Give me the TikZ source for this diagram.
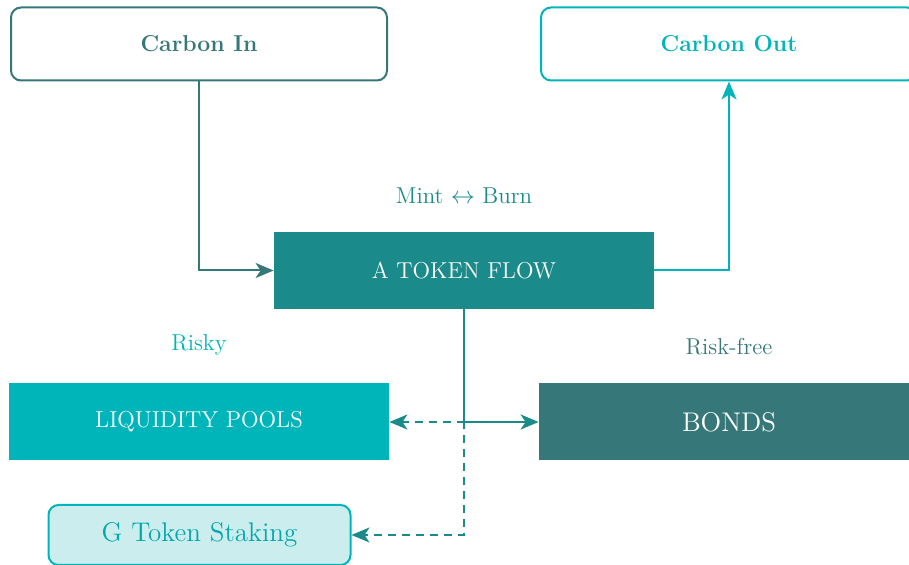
\documentclass[tikz,border=0pt]{standalone}
\usetikzlibrary{arrows.meta}
\definecolor{dteal}{HTML}{367779}
\definecolor{mteal}{HTML}{1B8A8A}
\definecolor{cyanA}{HTML}{00B5BA}
\definecolor{lcyan}{HTML}{CCEDED}
\begin{document}
\begin{tikzpicture}[x=0.5pt,y=-0.5pt,
  font=\fontsize{11.5}{13.5}\selectfont,
  topbox/.style={draw, rounded corners=5pt, line width=1pt, fill=white,
     minimum width=188pt, minimum height=36.5pt, inner sep=0pt,
     font=\fontsize{11.5}{13.5}\selectfont\bfseries},
  flatbox/.style={minimum width=190pt, minimum height=38.5pt, inner sep=0pt, text=white},
  lbl/.style={inner sep=0pt},
  conn/.style={line width=1pt, -{Stealth[length=9pt,width=7.5pt,inset=2.5pt]}},
  dconn/.style={conn, dash pattern=on 4pt off 3pt}]
\useasboundingbox (0,0) rectangle (909,565);
\node[topbox, draw=dteal, text=dteal] (cin) at (199,44) {Carbon In};
\node[topbox, draw=cyanA, text=cyanA] (cout) at (729,44) {Carbon Out};
\node[flatbox, fill=mteal] (tf) at (464,270.5) {A TOKEN FLOW};
\node[lbl, text=mteal] (mb) at (464,196) {Mint $\leftrightarrow$ Burn};
\node[flatbox, fill=cyanA] (lp) at (199,422) {LIQUIDITY POOLS};
\node[flatbox, fill=dteal, font=\fontsize{13.5}{15.5}\selectfont] (bonds) at (729,422) {BONDS};
\node[lbl, text=cyanA] (risky) at (199,345) {Risky};
\node[lbl, text=dteal] (rfree) at (729,347) {Risk-free};
\node[draw=cyanA, fill=lcyan, line width=1pt, rounded corners=5pt, text=cyanA!92!black,
   minimum width=151pt, minimum height=30pt, inner sep=0pt,
   font=\fontsize{13.5}{15.5}\selectfont] (gts) at (199.5,535) {G Token Staking};
\draw[conn, dteal] (cin.south) |- (tf.west);
\draw[conn, cyanA] (tf.east) -| (cout.south);
\draw[dconn, mteal] (tf.south) |- (lp.east);
\draw[dconn, mteal] (tf.south) |- (gts.east);
\draw[conn, mteal] (tf.south) |- (bonds.west);
\end{tikzpicture}
\end{document}
